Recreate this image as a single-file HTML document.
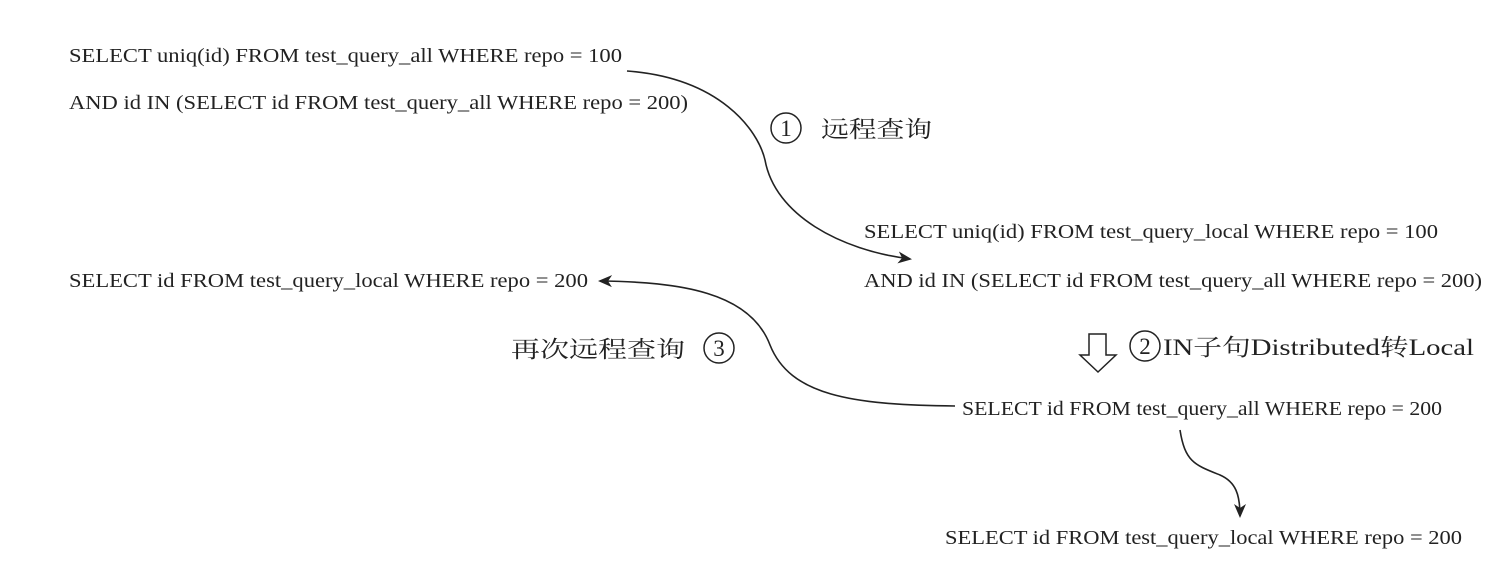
<!DOCTYPE html>
<html><head><meta charset="utf-8"><style>
html,body{margin:0;padding:0;background:#fff;}
svg{display:block;}
text{font-family:"Liberation Serif","Noto Serif CJK SC",serif;font-size:20px;fill:#222;}
.cn{font-family:"Liberation Serif","Noto Serif CJK SC",serif;font-size:23px;}
.n{font-size:23px;}
</style></head><body>
<svg width="1502" height="586" viewBox="0 0 1502 586" xmlns="http://www.w3.org/2000/svg">
<defs>
<marker id="ah" markerWidth="14" markerHeight="12" refX="12" refY="6" orient="auto" markerUnits="userSpaceOnUse">
<path d="M0,0 L14,6 L0,12 L4,6 Z" fill="#222"/></marker>
</defs>
<text x="69" y="62" textLength="553" lengthAdjust="spacingAndGlyphs">SELECT uniq(id) FROM test_query_all WHERE repo = 100</text>
<text x="69" y="109" textLength="619" lengthAdjust="spacingAndGlyphs">AND id IN (SELECT id FROM test_query_all WHERE repo = 200)</text>
<circle cx="786" cy="128" r="15" fill="none" stroke="#222" stroke-width="1.5"/>
<text class="n" x="786" y="136" text-anchor="middle">1</text>
<text class="cn" x="821" y="137" textLength="111" lengthAdjust="spacingAndGlyphs">远程查询</text>
<text x="864" y="238" textLength="574" lengthAdjust="spacingAndGlyphs">SELECT uniq(id) FROM test_query_local WHERE repo = 100</text>
<text x="864" y="287" textLength="618" lengthAdjust="spacingAndGlyphs">AND id IN (SELECT id FROM test_query_all WHERE repo = 200)</text>
<text x="69" y="287" textLength="519" lengthAdjust="spacingAndGlyphs">SELECT id FROM test_query_local WHERE repo = 200</text>
<text class="cn" x="511" y="357" textLength="174" lengthAdjust="spacingAndGlyphs">再次远程查询</text>
<circle cx="719" cy="348" r="15" fill="none" stroke="#222" stroke-width="1.5"/>
<text class="n" x="719" y="356" text-anchor="middle">3</text>
<path d="M1089,334 L1106,334 L1106,355 L1116,355 L1098,372 L1080,355 L1089,355 Z" fill="none" stroke="#222" stroke-width="1.5"/>
<circle cx="1145" cy="346" r="15" fill="none" stroke="#222" stroke-width="1.5"/>
<text class="n" x="1145" y="354" text-anchor="middle">2</text>
<text class="cn" x="1163" y="355" textLength="311" lengthAdjust="spacingAndGlyphs">IN子句Distributed转Local</text>
<text x="962" y="415" textLength="480" lengthAdjust="spacingAndGlyphs">SELECT id FROM test_query_all WHERE repo = 200</text>
<text x="945" y="544" textLength="517" lengthAdjust="spacingAndGlyphs">SELECT id FROM test_query_local WHERE repo = 200</text>
<path d="M627,71 C720,78 758,130 765,160 C775,215 840,250 910,259" fill="none" stroke="#222" stroke-width="1.6" marker-end="url(#ah)"/>
<path d="M955,406 C850,405 790,395 770,345 C750,292 680,282 600,281" fill="none" stroke="#222" stroke-width="1.6" marker-end="url(#ah)"/>
<path d="M1180,430 C1185,462 1195,465 1220,475 C1236,482 1240,495 1240,516" fill="none" stroke="#222" stroke-width="1.6" marker-end="url(#ah)"/>
</svg>
</body></html>
